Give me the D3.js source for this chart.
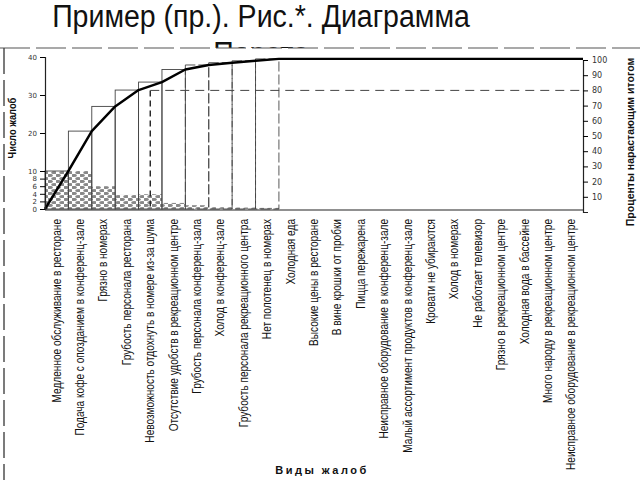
<!DOCTYPE html>
<html>
<head>
<meta charset="utf-8">
<script src="https://cdn.jsdelivr.net/npm/d3@7"></script>
<style>
  body { margin: 0; background: #fff; }
  svg { display: block; }
</style>
</head>
<body>
<div class="chart"></div>
<script>
const categories = [
  "Медленное обслуживание в ресторане",
  "Подача кофе с опозданием в конференц-зале",
  "Грязно в номерах",
  "Грубость персонала ресторана",
  "Невозможность отдохнуть в номере из-за шума",
  "Отсутствие удобств в рекреационном центре",
  "Грубость персонала конференц-зала",
  "Холод в конференц-зале",
  "Грубость персонала рекреационного центра",
  "Нет полотенец в номерах",
  "Холодная еда",
  "Высокие цены в ресторане",
  "В вине крошки от пробки",
  "Пицца пережарена",
  "Неисправное оборудование в конференц-зале",
  "Малый ассортимент продуктов в конференц-зале",
  "Кровати не убираются",
  "Холод в номерах",
  "Не работает телевизор",
  "Грязно в рекреационном центре",
  "Холодная вода в бассейне",
  "Много народу в рекреационном центре",
  "Неисправное оборудование в рекреационном центре"
];
// number of complaints (hatched bars)
const counts = [10, 10, 6, 3.7, 3.9, 1.6, 1, 0.5, 0.4, 0.3, 0, 0, 0, 0, 0, 0, 0, 0, 0, 0, 0, 0, 0];
// cumulative total (outlined boxes and line)
const cumulative = [10, 20.5, 27, 31.3, 33.4, 36.7, 37.9, 38.5, 39, 39.5, 39.5, 39.5, 39.5, 39.5,
  39.5, 39.5, 39.5, 39.5, 39.5, 39.5, 39.5, 39.5, 39.5];
const leftTicks = [0, 2, 4, 6, 8, 10, 20, 30, 40];
const rightTicks = [10, 20, 30, 40, 50, 60, 70, 80, 90, 100];
const paretoLevel = 80;

const W = 640, H = 480;
const svg = d3.select(".chart").append("svg")
  .attr("width", W).attr("height", H);

// title (second line is partly hidden by the picture)
const title = svg.append("g")
  .attr("font-family", "Liberation Sans, Arial, sans-serif")
  .attr("font-size", 31)
  .attr("fill", "#111")
  .attr("text-anchor", "middle");
title.append("text").attr("transform", "translate(261,27) scale(0.92,1)").text("Пример (пр.). Рис.*. Диаграмма");
title.append("text").attr("transform", "translate(261,64) scale(0.92,1)").text("Парето");

svg.append("rect").attr("x", 0).attr("y", 48).attr("width", W).attr("height", H - 48).attr("fill", "#fff");
svg.append("line").attr("x1", 0).attr("x2", W).attr("y1", 48).attr("y2", 48)
  .attr("stroke", "#555").attr("stroke-width", 1.2).attr("stroke-dasharray", "30,6");
svg.append("line").attr("x1", 4).attr("x2", 4).attr("y1", 48).attr("y2", H)
  .attr("stroke", "#444").attr("stroke-width", 1.4).attr("stroke-dasharray", "26,6");

const defs = svg.append("defs");
const pat = defs.append("pattern").attr("id", "dots")
  .attr("patternUnits", "userSpaceOnUse").attr("width", 8).attr("height", 6);
pat.append("rect").attr("width", 8).attr("height", 6).attr("fill", "#fff");
pat.append("ellipse").attr("cx", 2).attr("cy", 1.5).attr("rx", 2.8).attr("ry", 1.6).attr("fill", "#888");
pat.append("ellipse").attr("cx", 6).attr("cy", 4.5).attr("rx", 2.8).attr("ry", 1.6).attr("fill", "#888");

const x = d3.scaleBand().domain(categories).range([45, 583]).padding(0);
const y = d3.scaleLinear().domain([0, 40]).range([209, 57]);
const yPct = d3.scaleLinear().domain([0, 100]).range([212, 60]);
const bw = x.bandwidth();

// hatched bars
svg.append("g").selectAll("rect")
  .data(categories.map((c, i) => ({c, v: counts[i]})).filter(d => d.v > 0))
  .join("rect")
  .attr("x", d => x(d.c))
  .attr("y", d => y(d.v))
  .attr("width", bw)
  .attr("height", d => y(0) - y(d.v))
  .attr("fill", "url(#dots)");

// cumulative boxes
const boxes = categories.map((c, i) => ({c, i, v: cumulative[i]}))
  .filter(d => d.i === 0 || d.v > cumulative[d.i - 1]);
svg.append("g").selectAll("rect")
  .data(boxes)
  .join("rect")
  .attr("x", d => x(d.c))
  .attr("y", d => y(d.v))
  .attr("width", bw)
  .attr("height", d => y(0) - y(d.v))
  .attr("fill", "none")
  .attr("stroke", "#444")
  .attr("stroke-width", 0.9)
  .attr("stroke-dasharray", d => d.i >= 6 ? "10,3" : null);

// 80% guide lines
const c80 = categories[4];
svg.append("line")
  .attr("x1", x(c80) + bw / 2).attr("x2", x(c80) + bw / 2)
  .attr("y1", yPct(paretoLevel)).attr("y2", y(0))
  .attr("stroke", "#222").attr("stroke-width", 1.4).attr("stroke-dasharray", "6,4");
svg.append("line")
  .attr("x1", x(c80) + bw / 2).attr("x2", 583)
  .attr("y1", yPct(paretoLevel)).attr("y2", yPct(paretoLevel))
  .attr("stroke", "#444").attr("stroke-width", 1).attr("stroke-dasharray", "9,6");

// cumulative line
const pts = [[x(categories[0]), 0]].concat(categories.map((c, i) => [x(c) + bw, cumulative[i]]));
svg.append("path")
  .attr("fill", "none")
  .attr("stroke", "#000")
  .attr("stroke-width", 2.4)
  .attr("stroke-linejoin", "round")
  .attr("d", d3.line().x(d => d[0]).y(d => y(d[1]))(pts));

// frame bottom
svg.append("line").attr("x1", 45).attr("x2", 583).attr("y1", y(0) + 1).attr("y2", y(0) + 1)
  .attr("stroke", "#222").attr("stroke-width", 1.2);

// left axis
const gl = svg.append("g")
  .attr("transform", "translate(45,0)")
  .call(d3.axisLeft(y).tickValues(leftTicks).tickSize(5).tickPadding(3));
gl.selectAll("text").attr("font-family", "DejaVu Sans, sans-serif").attr("font-size", 7).attr("fill", "#333");
gl.select(".domain").attr("stroke", "#222").attr("stroke-width", 1.2);

// right axis
const gr = svg.append("g")
  .attr("transform", "translate(583,0)")
  .call(d3.axisRight(yPct).tickValues(rightTicks).tickSize(5).tickPadding(4));
gr.selectAll("text").attr("font-family", "DejaVu Sans, sans-serif").attr("font-size", 8).attr("fill", "#333");
gr.select(".domain").attr("stroke", "#222").attr("stroke-width", 1.2);

// category labels
svg.append("g").selectAll("text")
  .data(categories)
  .join("text")
  .attr("transform", d => `translate(${x(d) + bw / 2 + 4},219) rotate(-90) scale(0.84,1)`)
  .attr("text-anchor", "end")
  .attr("font-family", "Liberation Sans, Arial, sans-serif")
  .attr("font-size", 12)
  .attr("fill", "#111")
  .text(d => d);

// axis titles
svg.append("text")
  .attr("transform", "translate(16,128) rotate(-90) scale(0.85,1)")
  .attr("text-anchor", "middle")
  .attr("font-family", "Liberation Sans, Arial, sans-serif")
  .attr("font-weight", "bold").attr("font-size", 11).attr("fill", "#111")
  .text("Число жалоб");
svg.append("text")
  .attr("transform", "translate(634,142) rotate(-90)")
  .attr("text-anchor", "middle")
  .attr("font-family", "Liberation Sans, Arial, sans-serif")
  .attr("font-weight", "bold").attr("font-size", 10.5).attr("fill", "#111")
  .text("Проценты нарастающим итогом");
svg.append("text")
  .attr("x", 322).attr("y", 474)
  .attr("text-anchor", "middle")
  .attr("font-family", "Liberation Sans, Arial, sans-serif")
  .attr("font-weight", "bold").attr("font-size", 11).attr("letter-spacing", 2.5).attr("fill", "#111")
  .text("Виды жалоб");
</script>
</body>
</html>
